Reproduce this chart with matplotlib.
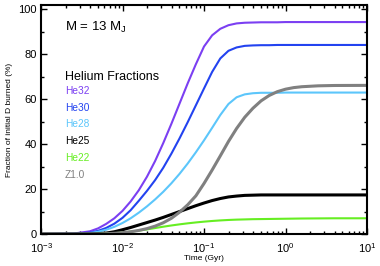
import numpy as np
import matplotlib
matplotlib.use("Agg")
import matplotlib.pyplot as plt
from matplotlib.ticker import LogLocator, MultipleLocator, NullFormatter

plt.rcParams['font.family'] = ['Liberation Sans', 'DejaVu Sans']
plt.rcParams['mathtext.fontset'] = 'custom'
plt.rcParams['mathtext.rm'] = 'Liberation Sans'
plt.rcParams['mathtext.it'] = 'Liberation Sans'

# log10 of time in Gyr
log_time = [-3.0, -2.6, -2.4, -2.3, -2.2, -2.1, -2.0, -1.9, -1.8, -1.7, -1.6, -1.5,
            -1.4, -1.3, -1.2, -1.1, -1.0, -0.9, -0.8, -0.7, -0.6, -0.5, -0.4,
            -0.3, -0.2, -0.1, 0.0, 0.1, 0.2, 0.4, 0.6, 1.0]

he32 = [0.0, 0.2, 1.2, 2.5, 4.5, 7.0, 10.3, 14.5, 19.5, 25.5, 32.5, 40.5,
        49.1, 58.1, 67.1, 75.6, 83.5, 88.5, 91.4, 93.0, 93.8, 94.1, 94.2,
        94.3, 94.3, 94.3, 94.4, 94.4, 94.4, 94.4, 94.4, 94.4]
he30 = [0.0, 0.1, 0.6, 1.4, 2.7, 4.6, 7.2, 10.6, 14.8, 19.2, 24.0, 29.5,
        35.8, 42.6, 49.8, 57.3, 64.8, 72.2, 78.2, 81.6, 83.1, 83.8, 84.0,
        84.1, 84.1, 84.2, 84.2, 84.2, 84.2, 84.2, 84.2, 84.2]
he28 = [0.0, 0.1, 0.4, 1.0, 1.9, 3.2, 4.9, 7.0, 9.5, 12.3, 15.4, 18.8,
        22.6, 26.8, 31.4, 36.4, 41.7, 47.3, 53.0, 57.9, 60.9, 62.2, 62.7,
        62.9, 62.9, 62.9, 63.0, 63.0, 63.0, 63.0, 63.0, 63.0]
he25 = [0.0, 0.0, 0.05, 0.15, 0.4, 1.0, 1.9, 2.9, 4.0, 5.1, 6.2, 7.4,
        8.7, 10.0, 11.3, 12.6, 13.8, 14.9, 15.8, 16.5, 16.9, 17.2, 17.3,
        17.4, 17.4, 17.4, 17.4, 17.4, 17.4, 17.4, 17.4, 17.4]
he22 = [0.0, 0.0, 0.0, 0.05, 0.15, 0.35, 0.65, 1.05, 1.5, 2.05, 2.65, 3.25,
        3.8, 4.3, 4.75, 5.15, 5.5, 5.8, 6.05, 6.25, 6.4, 6.5, 6.6,
        6.65, 6.7, 6.75, 6.8, 6.85, 6.9, 6.95, 7.0, 7.0]
z10 = [0.0, 0.0, 0.0, 0.0, 0.1, 0.3, 0.6, 1.0, 1.6, 2.4, 3.5, 5.0,
       7.0, 9.7, 13.0, 17.0, 22.5, 28.5, 34.8, 41.2, 47.0, 52.0, 56.0,
       59.3, 61.7, 63.4, 64.5, 65.2, 65.6, 66.0, 66.15, 66.2]

series = [
    ("He32", he32, "#7b3ff2", 1.5),
    ("He30", he30, "#2343f0", 1.5),
    ("He28", he28, "#5cc6fb", 1.5),
    ("He25", he25, "#000000", 2.2),
    ("He22", he22, "#66ee22", 1.5),
    ("Z1.0", z10, "#808080", 2.2),
]

time = 10.0 ** np.array(log_time)

fig = plt.figure(figsize=(3.8, 2.66), dpi=100)
ax = fig.add_axes([41/380, 1 - 234/266, (367-41)/380, (234-5)/266])

for name, vals, col, lw in series:
    ax.plot(time, vals, color=col, lw=lw, solid_joinstyle='round')

ax.set_xscale('log')
ax.set_xlim(1e-3, 1e1)
ax.set_ylim(0, 102)
ax.yaxis.set_major_locator(MultipleLocator(20))
ax.yaxis.set_minor_locator(MultipleLocator(10))
ax.xaxis.set_major_locator(LogLocator(base=10, numticks=10))
ax.xaxis.set_minor_locator(LogLocator(base=10, subs=np.arange(2, 10), numticks=10))
ax.xaxis.set_minor_formatter(NullFormatter())

ax.tick_params(which='both', direction='in', top=True, right=True, width=1.0, labelsize=8)
ax.tick_params(axis='x', pad=5)
ax.tick_params(axis='y', pad=3)
ax.tick_params(which='major', length=4.5)
ax.tick_params(which='minor', length=2.2)
for s in ax.spines.values():
    s.set_linewidth(1.5)

ax.set_xlabel("Time (Gyr)", fontsize=6, labelpad=0)
ax.set_ylabel("Fraction of initial D burned (%)", fontsize=6, labelpad=4)

fig.text(65/380, 1 - 27/266, r"M = 13 M$_{\mathrm{J}}$", fontsize=9.5, va='center', ha='left')
fig.text(65/380, 1 - 77/266, "Helium Fractions", fontsize=9, va='center', ha='left')
label_y = [91, 108, 124, 141, 158, 175]
for (name, vals, col, lw), yy in zip(series, label_y):
    fig.text(65/380, 1 - yy/266, name, fontsize=7.3, color=col, va='center', ha='left')

fig.savefig("out.png", dpi=100)
